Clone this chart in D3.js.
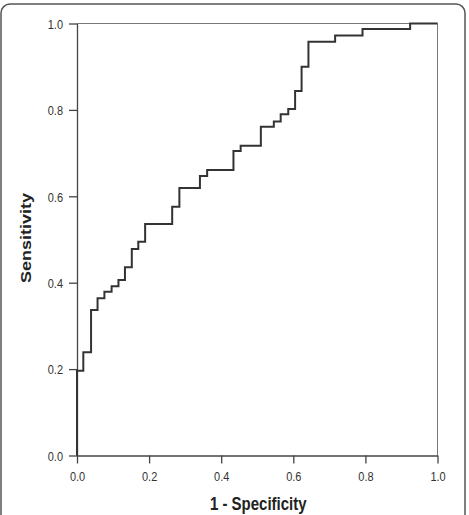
<!DOCTYPE html>
<html>
<head>
<meta charset="utf-8">
<script src="https://cdn.jsdelivr.net/npm/d3@7"></script>
<style>
  html, body { margin: 0; padding: 0; background: #fff; }
  svg { display: block; }
</style>
</head>
<body>
<div id="chart"></div>
<script>
// ROC curve corner points: false positive rate (1 - specificity) and sensitivity
const fpr = [0, 0.0175, 0.039, 0.057, 0.076, 0.096, 0.115, 0.133, 0.152, 0.170, 0.189,
             0.264, 0.284, 0.341, 0.361, 0.434, 0.454, 0.510, 0.546, 0.565, 0.586,
             0.605, 0.623, 0.642, 0.716, 0.792, 0.924, 1.0];
const tpr = [0, 0.196, 0.239, 0.337, 0.364, 0.379, 0.392, 0.406, 0.436, 0.478, 0.495,
             0.536, 0.576, 0.619, 0.647, 0.661, 0.705, 0.717, 0.761, 0.773, 0.790,
             0.802, 0.844, 0.900, 0.958, 0.972, 0.987, 1.0];
const xTicks = [0, 0.2, 0.4, 0.6, 0.8, 1.0];
const yTicks = [0, 0.2, 0.4, 0.6, 0.8, 1.0];
const xTitle = "1 - Specificity";
const yTitle = "Sensitivity";

const W = 469, H = 515;
const svg = d3.select("#chart").append("svg").attr("width", W).attr("height", H);

// outer rounded frame
svg.append("rect")
  .attr("x", 1).attr("y", 4).attr("width", 464).attr("height", 520)
  .attr("rx", 9).attr("ry", 9)
  .attr("fill", "none").attr("stroke", "#555").attr("stroke-width", 1.5);

const x = d3.scaleLinear().domain([0, 1]).range([77, 437.5]);
const y = d3.scaleLinear().domain([0, 1]).range([455.5, 23.5]);

// top and right frame lines of plot
svg.append("path")
  .attr("d", `M${x(0)},${y(1)}H${x(1)}V${y(0)}`)
  .attr("fill", "none").attr("stroke", "#777").attr("stroke-width", 1);

const font = "'Liberation Sans', Arial, sans-serif";
const stretch = 1.2;

const xAxis = svg.append("g")
  .attr("transform", `translate(0,${y(0)})`)
  .call(d3.axisBottom(x).tickValues(xTicks).tickFormat(d3.format(".1f"))
        .tickSize(8).tickSizeOuter(0));
const yAxis = svg.append("g")
  .attr("transform", `translate(${x(0)},0)`)
  .call(d3.axisLeft(y).tickValues(yTicks).tickFormat(d3.format(".1f"))
        .tickSize(8).tickSizeOuter(0));

[xAxis, yAxis].forEach(g => {
  g.select(".domain").attr("stroke", "#444").attr("stroke-width", 1.3);
  g.selectAll(".tick line").attr("stroke", "#444").attr("stroke-width", 1.3);
  g.selectAll(".tick text").attr("fill", "#333").attr("font-size", 11)
    .attr("font-family", font).attr("x", 0).attr("y", 0).attr("dy", null);
});
xAxis.selectAll(".tick text")
  .attr("transform", `translate(0,25) scale(1,${stretch})`);
yAxis.selectAll(".tick text")
  .attr("transform", `translate(-14,4.7) scale(1,${stretch})`);

// ROC step curve
const pts = fpr.map((f, i) => [f, tpr[i]]);
const line = d3.line().x(d => x(d[0])).y(d => y(d[1])).curve(d3.curveStepBefore);
svg.append("path")
  .datum(pts)
  .attr("d", line)
  .attr("fill", "none").attr("stroke", "#333").attr("stroke-width", 2);

// axis titles
svg.append("text")
  .attr("transform", `translate(${(x(0) + x(1)) / 2 + 1},509.5) scale(1,${stretch})`)
  .attr("text-anchor", "middle")
  .attr("font-family", font).attr("font-weight", "bold").attr("font-size", 15)
  .attr("fill", "#222")
  .text(xTitle);
svg.append("text")
  .attr("transform", `translate(31,${(y(0) + y(1)) / 2 - 1.5}) rotate(-90) scale(${stretch},1)`)
  .attr("text-anchor", "middle")
  .attr("font-family", font).attr("font-weight", "bold").attr("font-size", 15)
  .attr("fill", "#222")
  .text(yTitle);
</script>
</body>
</html>
